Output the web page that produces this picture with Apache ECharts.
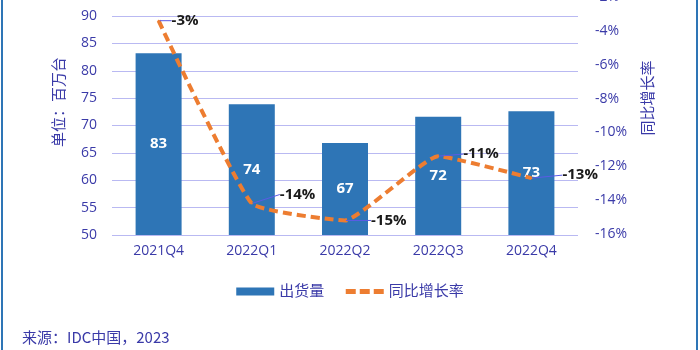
<!DOCTYPE html>
<html>
<head>
<meta charset="utf-8">
<script src="https://cdn.jsdelivr.net/npm/echarts@6/dist/echarts.min.js"></script>
<style>
  html, body { margin: 0; padding: 0; background: #fff; }
  #chart { width: 700px; height: 350px; }
</style>
</head>
<body>
<div id="chart"></div>
<script>
// 数据
const quarters = ['2021Q4', '2022Q1', '2022Q2', '2022Q3', '2022Q4'];
const shipments = [83.2, 73.9, 66.8, 71.6, 72.6];
const growth = [-3.4, -14.2, -15.2, -11.4, -12.7];
const growthLabels = ['-3%', '-14%', '-15%', '-11%', '-13%'];

// 标签位移 (layout only)
const labelShift = [[7, 0], [22, -9], [20, 0], [19, -2], [25, -3]];

const font = '"Open Sans", "Noto Sans CJK SC", sans-serif';
const indigo = '#3a3aa8';

const myChart = echarts.init(document.getElementById('chart'));
myChart.setOption({
    animation: false,
    textStyle: { fontFamily: font },
    grid: [
        { left: 112, right: 122, top: 16, bottom: 115, outerBoundsMode: 'none' },
        { left: 112, right: 122, top: -3, bottom: 116, outerBoundsMode: 'none' }
    ],
    legend: {
        bottom: 46,
        left: 'center',
        itemWidth: 38,
        itemHeight: 8,
        itemGap: 19,
        textStyle: { color: indigo, fontSize: 15, fontFamily: font },
        data: [
            { name: '出货量', icon: 'rect' },
            { name: '同比增长率', itemStyle: { opacity: 0 }, lineStyle: { width: 5, type: [10, 4] } }
        ]
    },
    xAxis: [{
        type: 'category',
        gridIndex: 0,
        data: quarters,
        axisLine: { show: false },
        axisTick: { show: false },
        axisLabel: { color: indigo, fontSize: 14, margin: 9 }
    }, {
        type: 'category',
        gridIndex: 1,
        data: quarters,
        show: false
    }],
    yAxis: [{
        type: 'value',
        gridIndex: 0,
        min: 50,
        max: 90,
        interval: 5,
        axisLine: { show: false },
        axisTick: { show: false },
        splitLine: { lineStyle: { color: '#b9b9f2', width: 1 } },
        axisLabel: { color: indigo, fontSize: 14, margin: 15 }
    }, {
        type: 'value',
        gridIndex: 1,
        position: 'right',
        min: -16,
        max: -2,
        interval: 2,
        axisLine: { show: false },
        axisTick: { show: false },
        splitLine: { show: false },
        axisLabel: { color: indigo, fontSize: 14, margin: 17, formatter: '{value}%' }
    }],
    graphic: [
        { type: 'text', x: 58, y: 102, rotation: Math.PI / 2,
          style: { text: '单位：百万台', font: '15px "Noto Sans CJK SC"', fill: indigo, align: 'center', verticalAlign: 'middle' } },
        { type: 'text', x: 647, y: 98, rotation: Math.PI / 2,
          style: { text: '同比增长率', font: '15px "Noto Sans CJK SC"', fill: indigo, align: 'center', verticalAlign: 'middle' } },
        { type: 'text', left: 22, top: 330,
          style: { text: '来源：IDC中国，2023', font: '15px "Noto Sans CJK SC"', fill: indigo } },
        { type: 'rect', shape: { x: 1, y: 0, width: 2, height: 350 }, style: { fill: '#2e75b6' } },
        { type: 'rect', shape: { x: 696, y: 0, width: 2, height: 350 }, style: { fill: '#2e75b6' } }
    ],
    series: [{
        name: '出货量',
        type: 'bar',
        xAxisIndex: 0,
        yAxisIndex: 0,
        barWidth: 46,
        itemStyle: { color: '#2e75b6' },
        label: {
            show: true,
            position: 'inside',
            color: '#fff',
            fontWeight: 'bold',
            fontSize: 15,
            formatter: p => Math.round(p.value)
        },
        data: shipments
    }, {
        name: '同比增长率',
        type: 'line',
        xAxisIndex: 1,
        yAxisIndex: 1,
        smooth: 0.12,
        symbol: 'circle',
        symbolSize: 2,
        itemStyle: { color: '#ed7d31' },
        lineStyle: { color: '#ed7d31', width: 4, type: [9, 5] },
        label: {
            show: true,
            position: 'right',
            color: '#1a1a1a',
            fontWeight: 'bold',
            fontSize: 15,
            formatter: p => growthLabels[p.dataIndex]
        },
        labelLine: { show: true, lineStyle: { color: '#5b5be6', width: 1 } },
        labelLayout: p => ({ dx: labelShift[p.dataIndex][0], dy: labelShift[p.dataIndex][1] }),
        data: growth
    }]
});
</script>
</body>
</html>
